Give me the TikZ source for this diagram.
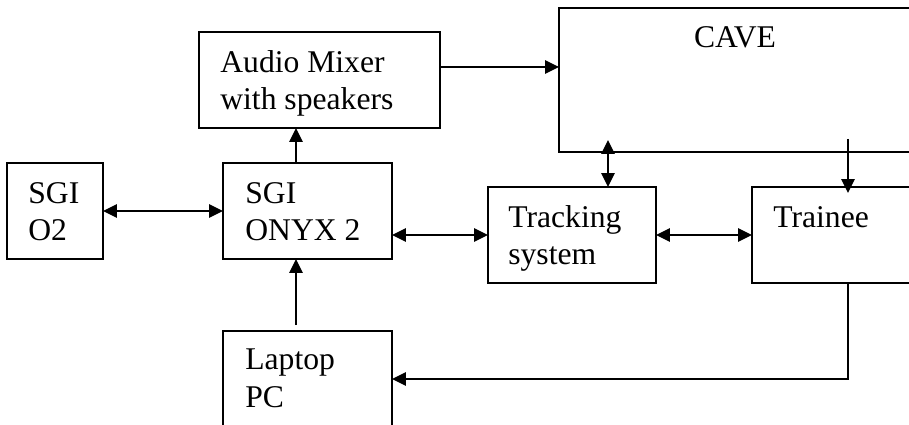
\documentclass[tikz,border=0pt]{standalone}
\usepackage{fontspec}
\setmainfont{Liberation Serif}
\usetikzlibrary{arrows.meta,calc}
\begin{document}
\begin{tikzpicture}[x=0.02cm,y=-0.02cm,
  box/.style={draw,line width=0.9pt,inner sep=0pt,outer sep=0pt},
  lbl/.style={anchor=base west,inner sep=0pt,align=left,font=\fontsize{18}{21.5}\selectfont},
  conn/.style={line width=0.8pt,-{Triangle[length=0.28cm,width=0.27cm]}},
  dconn/.style={line width=0.8pt,{Triangle[length=0.28cm,width=0.27cm]}-{Triangle[length=0.28cm,width=0.27cm]}}]
\clip (0,0) rectangle (909,425);
% boxes
\node[box,minimum width=1.92cm,minimum height=1.92cm] (o2) at (55,211) {};
\node[box,minimum width=3.38cm,minimum height=1.92cm] (onyx) at (307.5,211) {};
\node[box,minimum width=4.82cm,minimum height=1.92cm] (mixer) at (319.5,80) {};
\node[box,minimum width=7.42cm,minimum height=2.88cm] (cave) at (744.5,80) {};
\node[box,minimum width=3.36cm,minimum height=1.92cm] (track) at (572,235) {};
\node[box,minimum width=3.56cm,minimum height=1.92cm] (trainee) at (841,235) {};
\node[box,minimum width=3.38cm,minimum height=2.28cm] (laptop) at (307.5,388) {};
% labels (base = baseline of last line)
\node[lbl] (o2t) at (28,241) {SGI\\O2};
\node[lbl] (onyxt) at (245,241) {SGI\\ONYX 2};
\node[lbl] (mixert) at (220,110) {Audio Mixer\\with speakers};
\node[anchor=base,inner sep=0pt,font=\fontsize{18}{21.5}\selectfont] (cavet) at (735,48) {CAVE};
\node[lbl] (trackt) at (508,265) {Tracking\\system};
\node[lbl] (traineet) at (773,228) {Trainee};
\node[lbl] (laptopt) at (245,407) {Laptop\\PC};
% connectors
\draw[dconn] (o2.east) -- (onyx.west);
\draw[conn] ($(onyx.north)+(-11.5,0)$) -- ($(mixer.south)+(-23.5,0)$);
\draw[conn] ($(mixer.east)+(0,-13)$) -- ($(cave.west)+(0,-13)$);
\draw[dconn] (onyx.east |- track.west) -- (track.west);
\draw[dconn] (track.east) -- (trainee.west);
\coordinate (ct) at ($(track.north)+(36,0)$);
\draw[dconn] ($(ct |- cave.south)+(0,-12)$) -- (ct);
\coordinate (tt) at ($(trainee.north)+(7,6)$);
\draw[conn] ($(tt |- cave.south)+(0,-13)$) -- (tt);
\draw[conn] ($(laptop.north)+(-11.5,-6)$) -- ($(onyx.south)+(-11.5,0)$);
\draw[conn] ($(trainee.south)+(7,0)$) |- ($(laptop.east)+(0,-9)$);
\end{tikzpicture}
\end{document}
